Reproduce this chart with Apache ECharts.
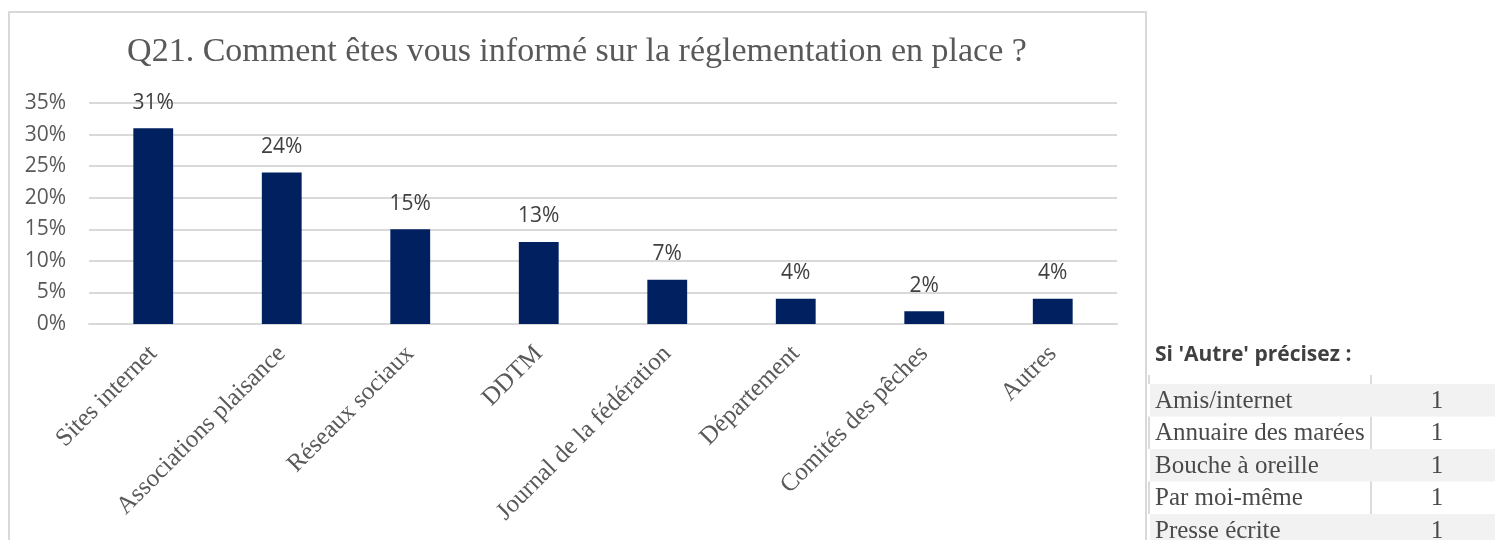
<!DOCTYPE html>
<html>
<head>
<meta charset="utf-8">
<script src="https://cdn.jsdelivr.net/npm/echarts@6/dist/echarts.min.js"></script>
<style>
html,body{margin:0;padding:0;background:#fff;}
#chart{width:1495px;height:540px;}
</style>
</head>
<body>
<div id="chart"></div>
<script>
const titleText = "Q21. Comment êtes vous informé sur la réglementation en place ?";
const categories = ["Sites internet","Associations plaisance","Réseaux sociaux","DDTM","Journal de la fédération","Département","Comités des pêches","Autres"];
const values = [31, 24, 15, 13, 7, 4, 2, 4];
const tableTitle = "Si 'Autre' précisez :";
const otherLabels = ["Amis/internet","Annuaire des marées","Bouche à oreille","Par moi-même","Presse écrite"];
const otherCounts = [1, 1, 1, 1, 1];

const serif = "'Liberation Serif', serif";
const sans = "'Open Sans', sans-serif";

const chart = echarts.init(document.getElementById('chart'), null, {renderer:'canvas'});

const graphics = [];
graphics.push({type:'rect', shape:{x:9, y:12, width:1137, height:600}, style:{fill:'none', stroke:'#d9d9d9', lineWidth:2}, silent:true, z:0});
graphics.push({type:'text', x:577, y:52, style:{text:titleText, font:"34px " + serif, fill:'#595959', align:'center', verticalAlign:'middle'}, z:10});
graphics.push({type:'text', x:1155, y:355, style:{text:tableTitle, font:"bold 21px " + sans, fill:'#404040', align:'left', verticalAlign:'middle'}, z:10});
const rowTop = 384, rowH = 32.5;
graphics.push({type:'line', shape:{x1:1149, y1:375, x2:1149, y2:rowTop}, style:{stroke:'#cfcfcf', lineWidth:1.5}});
graphics.push({type:'line', shape:{x1:1371, y1:375, x2:1371, y2:rowTop}, style:{stroke:'#cfcfcf', lineWidth:1.5}});
otherLabels.forEach((lab, i) => {
  const y0 = rowTop + i*rowH;
  if (i % 2 === 0) {
    graphics.push({type:'rect', shape:{x:1150, y:y0, width:345, height:rowH}, style:{fill:'#f2f2f2'}, z:1});
  } else {
    graphics.push({type:'line', shape:{x1:1149, y1:y0, x2:1149, y2:y0+rowH}, style:{stroke:'#cfcfcf', lineWidth:1.5}, z:2});
    graphics.push({type:'line', shape:{x1:1371, y1:y0, x2:1371, y2:y0+rowH}, style:{stroke:'#cfcfcf', lineWidth:1.5}, z:2});
  }
  graphics.push({type:'text', x:1155, y:y0 + rowH/2 + 1, style:{text:lab, font:"25px " + serif, fill:'#4a4a4a', align:'left', verticalAlign:'middle'}, z:5});
  graphics.push({type:'text', x:1437, y:y0 + rowH/2 + 1, style:{text:String(otherCounts[i]), font:"25px " + serif, fill:'#4a4a4a', align:'center', verticalAlign:'middle'}, z:5});
});

chart.setOption({
  animation:false,
  backgroundColor:'#ffffff',
  grid:{left:89, right:378, top:103, bottom:216, containLabel:false},
  xAxis:{
    type:'category',
    data:categories,
    axisLine:{show:true, lineStyle:{color:'#d9d9d9', width:2}},
    axisTick:{show:false},
    axisLabel:{rotate:45, interval:0, margin:26, color:'#595959', fontFamily:serif, fontSize:25}
  },
  yAxis:{
    type:'value',
    min:0, max:35, interval:5,
    axisLine:{show:false},
    axisTick:{show:false},
    splitLine:{lineStyle:{color:'#d9d9d9', width:2}},
    axisLabel:{formatter:'{value}%', margin:23, color:'#595959', fontFamily:sans, fontSize:21}
  },
  series:[{
    type:'bar',
    data:values,
    barWidth:'31%',
    itemStyle:{color:'#002060'},
    label:{show:true, position:'top', distance:15, formatter:'{c}%', color:'#404040', fontFamily:sans, fontSize:21}
  }],
  graphic:graphics
});
</script>
</body>
</html>
